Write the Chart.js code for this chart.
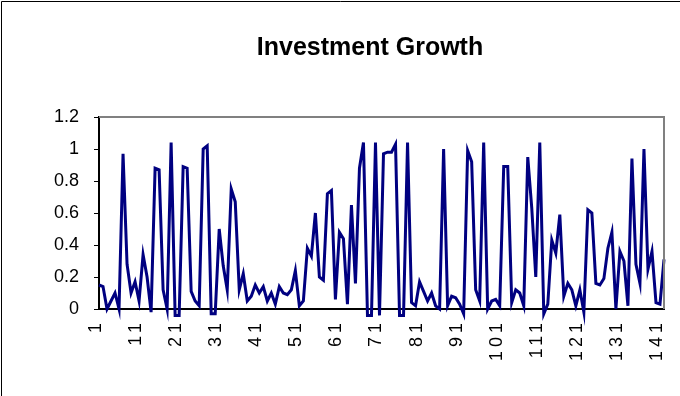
<!DOCTYPE html>
<html>
<head>
<meta charset="utf-8">
<script src="https://cdn.jsdelivr.net/npm/chart.js@4"></script>
<style>
  html, body { margin: 0; padding: 0; background: #fff; }
  canvas { display: block; }
</style>
</head>
<body>
<canvas id="growth_chart" width="680" height="396"></canvas>
<script>
var chartTitle = "Investment Growth";

// growth per period, one value per category
var growthValues = [
  0.15, 0.14, 0.0, 0.05, 0.1, 0.0, 0.97, 0.28, 0.1, 0.17,
  0.05, 0.34, 0.2, -0.02, 0.88, 0.87, 0.12, 0.0, 1.04, -0.04,
  -0.04, 0.89, 0.88, 0.11, 0.05, 0.02, 1.0, 1.02, -0.03, -0.03,
  0.5, 0.27, 0.12, 0.75, 0.67, 0.12, 0.22, 0.05, 0.08, 0.15,
  0.1, 0.14, 0.05, 0.1, 0.03, 0.14, 0.1, 0.09, 0.12, 0.24,
  0.02, 0.05, 0.38, 0.33, 0.6, 0.2, 0.18, 0.72, 0.74, 0.06,
  0.48, 0.44, 0.03, 0.65, 0.16, 0.88, 1.04, -0.04, -0.04, 1.04,
  -0.04, 0.97, 0.98, 0.98, 1.03, -0.04, -0.04, 1.04, 0.04, 0.02,
  0.17, 0.11, 0.05, 0.1, 0.02, 0.0, 1.0, 0.02, 0.08, 0.07,
  0.03, -0.03, 0.99, 0.92, 0.12, 0.05, 1.04, 0.0, 0.05, 0.06,
  0.02, 0.89, 0.89, 0.04, 0.12, 0.1, 0.02, 0.95, 0.63, 0.2,
  1.04, -0.03, 0.03, 0.43, 0.35, 0.59, 0.08, 0.16, 0.12, 0.02,
  0.12, -0.02, 0.62, 0.6, 0.16, 0.15, 0.19, 0.38, 0.48, 0.0,
  0.36, 0.3, 0.02, 0.94, 0.28, 0.16, 1.0, 0.25, 0.36, 0.04,
  0.03, 0.31
];

// categories are just the period numbers 1..n
var periodLabels = [];
for (var i = 0; i < growthValues.length; i++) {
  periodLabels.push(String(i + 1));
}
var labelEvery = 10;

var yMin = 0;
var yMax = 1.2;
var yStep = 0.2;

var fontFamily = "'Liberation Sans', Arial, sans-serif";

// heading, outer frame lines and the grey top/right edge of the plot area
var chartDecor = {
  id: "chartDecor",
  afterDraw: function(chart) {
    var ctx = chart.ctx;
    var area = chart.chartArea;
    ctx.save();
    ctx.strokeStyle = "#000";
    ctx.lineWidth = 1;
    ctx.beginPath();
    ctx.moveTo(1.5, chart.height);
    ctx.lineTo(1.5, 1.5);
    ctx.lineTo(chart.width, 1.5);
    ctx.stroke();

    ctx.strokeStyle = "#808080";
    ctx.lineWidth = 2;
    ctx.beginPath();
    ctx.moveTo(area.left, area.top);
    ctx.lineTo(area.right, area.top);
    ctx.lineTo(area.right, area.bottom);
    ctx.stroke();

    ctx.fillStyle = "#000";
    ctx.font = "bold 25px " + fontFamily;
    ctx.textAlign = "center";
    ctx.textBaseline = "middle";
    ctx.fillText(chartTitle, 370, 48);
    ctx.restore();
  }
};

var ctx = document.getElementById("growth_chart");
var growthChart = new Chart(ctx, {
  type: "line",
  data: {
    labels: periodLabels,
    datasets: [
      {
        label: chartTitle,
        data: growthValues,
        borderColor: "#000080",
        backgroundColor: "#000080",
        borderWidth: 3,
        pointRadius: 0,
        tension: 0,
        clip: false
      }
    ]
  },
  options: {
    responsive: false,
    animation: false,
    devicePixelRatio: 1,
    layout: {
      padding: { left: 0, right: 16, top: 117, bottom: 0 }
    },
    plugins: {
      legend: { display: false },
      tooltip: { enabled: false },
      title: { display: false }
    },
    scales: {
      x: {
        type: "category",
        offset: false,
        grid: { display: false },
        border: { display: true, color: "#000", width: 2 },
        ticks: {
          autoSkip: false,
          maxRotation: 90,
          minRotation: 90,
          color: "#000",
          padding: 2,
          labelOffset: -3,
          font: { family: fontFamily, size: 18 },
          callback: function(value, index) {
            return index % labelEvery === 0 ? periodLabels[index] : "";
          }
        },
        afterFit: function(scale) {
          scale.height = 87;
          scale.paddingLeft = 0;
          scale.paddingRight = 0;
        }
      },
      y: {
        min: yMin,
        max: yMax,
        grid: {
          drawOnChartArea: false,
          drawTicks: true,
          tickLength: 5,
          color: "#000",
          lineWidth: 1
        },
        border: { display: true, color: "#000", width: 2 },
        ticks: {
          stepSize: yStep,
          color: "#000",
          padding: 15,
          font: { family: fontFamily, size: 18 },
          callback: function(value) {
            return String(parseFloat(value.toFixed(1)));
          }
        },
        afterFit: function(scale) {
          scale.width = 99;
        }
      }
    }
  },
  plugins: [chartDecor]
});

// the rotated period numbers are spaced out a little
var xAxis = growthChart.scales.x;
var drawXLabels = xAxis.drawLabels;
xAxis.drawLabels = function(area) {
  this.ctx.letterSpacing = "4px";
  drawXLabels.call(this, area);
  this.ctx.letterSpacing = "0px";
};
growthChart.draw();
</script>
</body>
</html>
